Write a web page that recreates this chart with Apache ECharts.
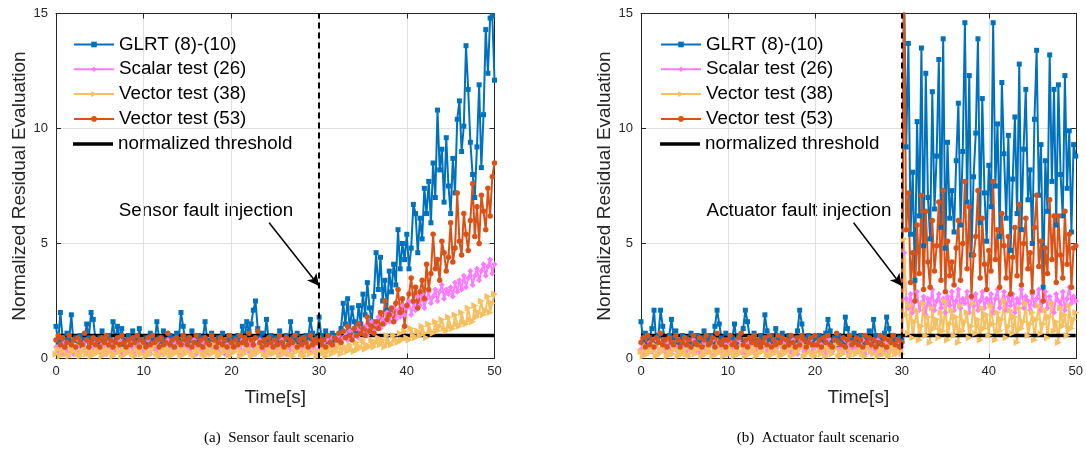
<!DOCTYPE html>
<html>
<head>
<meta charset="utf-8">
<title>Normalized Residual Evaluation</title>
<script src="https://cdn.jsdelivr.net/npm/echarts@6/dist/echarts.min.js"></script>
<style>
    html, body { margin: 0; padding: 0; background: #fff; }
    #chart { width: 1086px; height: 451px; }
</style>
</head>
<body>
<div id="chart"></div>
<script>
// 采样间隔 (s) 与坐标范围
const timeStep = 0.25;
const timeRange = [0, 50];
const faultTime = 30;
const thresholdLevel = 1;
const yRange = [0, 15];

const seriesNames = ['GLRT (8)-(10)', 'Scalar test (26)', 'Vector test (38)', 'Vector test (53)'];
const thresholdName = 'normalized threshold';
const captions = ['(a)  Sensor fault scenario', '(b)  Actuator fault scenario'];
const annotations = ['Sensor fault injection', 'Actuator fault injection'];

// (a) 传感器故障
const sensorGlrt = [
    1.4, 0.7, 2.0, 0.9, 0.6, 1.1, 0.8, 1.9, 0.6, 0.9, 0.7, 1.0, 0.5, 0.8, 1.5, 0.9, 2.0, 1.7, 0.8, 0.6,
    0.9, 1.2, 0.7, 0.6, 1.0, 0.8, 1.6, 0.7, 1.4, 0.9, 1.3, 0.6, 0.8, 1.0, 0.7, 1.2, 0.9, 0.6, 1.3, 0.8,
    0.7, 0.9, 0.6, 1.1, 0.8, 0.7, 1.6, 0.9, 0.6, 1.2, 0.8, 0.7, 1.0, 0.6, 0.9, 1.1, 0.8, 2.0, 1.4, 0.7,
    0.9, 0.6, 1.2, 0.8, 0.7, 1.0, 0.6, 0.9, 1.6, 0.8, 0.7, 1.1, 0.6, 0.8, 0.9, 0.7, 1.1, 0.6, 0.8, 1.0,
    0.7, 0.9, 0.6, 1.0, 0.8, 1.4, 0.9, 1.6, 1.2, 1.5, 2.1, 2.5, 1.3, 0.9, 1.1, 0.7, 1.7, 0.8, 1.0, 0.6,
    0.9, 0.7, 1.2, 0.8, 0.6, 1.0, 0.7, 1.6, 0.9, 0.8, 1.1, 0.6, 0.9, 0.7, 1.0, 0.8, 1.7, 1.1, 0.7, 0.9,
    1.8, 1.0, 0.8, 1.2, 0.7, 0.9, 1.1, 0.8, 1.0, 0.7, 1.3, 2.4, 1.5, 2.6, 1.2, 2.2, 1.6, 1.1, 2.3, 1.5,
    2.8, 1.9, 3.3, 2.2, 1.6, 2.7, 4.6, 3.0, 4.4, 2.5, 3.4, 2.1, 3.8, 2.9, 4.1, 3.2, 5.6, 3.9, 5.0, 4.3,
    5.4, 3.9, 4.8, 6.7, 6.3, 4.6, 6.1, 5.2, 7.4, 6.3, 7.7, 5.9, 8.5, 7.0, 10.8, 8.2, 9.1, 6.8, 9.6, 7.5,
    6.3, 8.7, 7.2, 10.4, 11.2, 9.0, 10.1, 13.6, 11.7, 9.4, 8.0, 7.0, 9.2, 11.9, 8.3, 10.6, 14.3, 12.4, 14.8, 14.9,
    12.1
];
const sensorScalar = [
    0.5, 0.3, 0.6, 0.2, 0.7, 0.4, 0.3, 0.6, 0.2, 0.5, 0.8, 0.3, 0.4, 0.7, 0.2, 0.5, 0.6, 0.3, 0.7, 0.4,
    0.3, 0.6, 0.5, 0.2, 0.7, 0.4, 0.6, 0.3, 0.5, 0.8, 0.2, 0.4, 0.6, 0.3, 0.7, 0.5, 0.2, 0.6, 0.4, 0.7,
    0.3, 0.5, 0.8, 0.2, 0.6, 0.4, 0.7, 0.3, 0.5, 0.2, 0.6, 0.8, 0.4, 0.3, 0.7, 0.5, 0.2, 0.6, 0.4, 0.7,
    0.5, 0.3, 0.6, 0.8, 0.2, 0.5, 0.4, 0.7, 0.3, 0.6, 0.2, 0.5, 0.7, 0.4, 0.3, 0.8, 0.5, 0.2, 0.6, 0.4,
    0.7, 0.3, 0.5, 0.6, 0.2, 0.8, 0.4, 0.6, 0.3, 0.7, 0.5, 0.2, 0.6, 0.8, 0.4, 0.3, 0.6, 0.5, 0.2, 0.7,
    0.4, 0.6, 0.3, 0.8, 0.5, 0.2, 0.6, 0.4, 0.7, 0.3, 0.5, 0.8, 0.2, 0.6, 0.4, 0.7, 0.3, 0.5, 0.6, 0.2,
    0.6, 0.4, 0.7, 0.5, 0.8, 0.6, 0.9, 0.5, 0.8, 1.0, 0.7, 0.9, 1.1, 0.8, 1.2, 0.9, 1.0, 1.3, 0.9, 1.2,
    1.1, 1.4, 1.0, 1.3, 1.6, 1.2, 1.5, 1.8, 1.3, 1.7, 1.5, 2.0, 1.6, 1.9, 2.2, 1.7, 2.1, 1.8, 2.3, 1.9,
    2.2, 2.5, 1.9, 2.4, 2.1, 2.7, 2.3, 2.8, 2.2, 2.6, 2.9, 2.4, 2.7, 3.0, 2.5, 2.9, 3.2, 2.6, 3.0, 2.8,
    3.1, 2.7, 3.3, 2.9, 3.4, 3.0, 3.6, 3.1, 3.5, 3.8, 3.2, 3.6, 3.9, 3.4, 3.8, 4.1, 3.6, 4.0, 4.3, 3.7,
    4.1
];
const sensorVector38 = [
    0.2, 0.4, 0.1, 0.3, 0.5, 0.2, 0.1, 0.4, 0.3, 0.6, 0.2, 0.1, 0.3, 0.5, 0.2, 0.4, 0.1, 0.3, 0.2, 0.5,
    0.3, 0.1, 0.4, 0.2, 0.6, 0.3, 0.1, 0.2, 0.5, 0.3, 0.1, 0.4, 0.2, 0.3, 0.6, 0.2, 0.1, 0.4, 0.3, 0.2,
    0.5, 0.1, 0.3, 0.2, 0.4, 0.6, 0.2, 0.1, 0.3, 0.5, 0.2, 0.4, 0.1, 0.3, 0.2, 0.5, 0.3, 0.1, 0.4, 0.2,
    0.3, 0.6, 0.2, 0.1, 0.4, 0.3, 0.5, 0.2, 0.1, 0.3, 0.4, 0.2, 0.6, 0.3, 0.1, 0.2, 0.5, 0.3, 0.4, 0.1,
    0.2, 0.4, 0.3, 0.6, 0.1, 0.3, 0.2, 0.5, 0.4, 0.1, 0.3, 0.2, 0.5, 0.3, 0.6, 0.2, 0.1, 0.4, 0.3, 0.2,
    0.5, 0.3, 0.1, 0.4, 0.2, 0.3, 0.6, 0.2, 0.1, 0.4, 0.3, 0.5, 0.2, 0.1, 0.3, 0.4, 0.2, 0.6, 0.3, 0.1,
    0.3, 0.2, 0.4, 0.1, 0.3, 0.5, 0.2, 0.4, 0.3, 0.6, 0.2, 0.4, 0.5, 0.3, 0.6, 0.4, 0.3, 0.7, 0.4, 0.5,
    0.8, 0.4, 0.6, 0.5, 0.8, 0.5, 0.7, 0.9, 0.6, 0.8, 0.5, 1.0, 0.7, 0.6, 1.0, 0.8, 0.7, 1.1, 0.8, 1.2,
    0.9, 0.8, 1.3, 1.0, 0.9, 1.2, 1.0, 1.4, 1.1, 0.9, 1.5, 1.2, 1.1, 1.6, 1.2, 1.4, 1.7, 1.3, 1.2, 1.8,
    1.4, 1.3, 1.9, 1.5, 1.4, 2.0, 1.6, 1.5, 2.2, 1.7, 1.6, 2.3, 1.8, 2.0, 2.5, 1.9, 2.1, 2.7, 2.0, 2.4,
    2.8
];
const sensorVector53 = [
    0.8, 1.0, 0.6, 0.9, 0.5, 0.7, 1.0, 0.6, 0.8, 0.5, 0.9, 0.7, 0.6, 1.1, 0.8, 0.5, 0.7, 0.9, 0.6, 0.8,
    0.5, 0.9, 0.7, 1.0, 0.6, 0.8, 0.5, 0.7, 0.9, 0.6, 1.0, 0.7, 0.5, 0.8, 0.6, 0.9, 0.7, 1.0, 0.5, 0.8,
    0.7, 0.5, 0.9, 0.6, 1.0, 0.7, 0.8, 0.5, 0.9, 0.6, 0.7, 1.1, 0.6, 0.8, 0.5, 0.9, 0.7, 0.6, 1.0, 0.8,
    0.6, 0.9, 0.5, 0.7, 1.0, 0.6, 0.8, 0.5, 0.9, 0.7, 0.6, 1.0, 0.8, 0.5, 0.7, 0.9, 0.6, 0.8, 0.5, 1.0,
    0.7, 0.5, 0.8, 0.6, 1.0, 0.7, 0.9, 0.6, 1.1, 0.8, 0.6, 0.9, 1.2, 0.7, 0.5, 0.8, 0.6, 0.9, 0.7, 0.5,
    0.8, 0.6, 1.0, 0.7, 0.5, 0.9, 0.6, 0.8, 0.7, 1.0, 0.5, 0.8, 0.6, 0.9, 0.7, 0.5, 1.0, 0.6, 0.8, 0.7,
    0.9, 0.6, 0.8, 0.5, 1.0, 0.7, 0.6, 0.9, 0.8, 1.1, 0.7, 1.2, 0.9, 1.4, 1.0, 0.8, 1.3, 1.0, 1.5, 1.1,
    1.3, 1.0, 1.8, 1.2, 1.4, 1.1, 1.6, 1.3, 2.0, 1.5, 2.5, 1.7, 1.9, 2.2, 1.6, 2.4, 3.0, 2.0, 2.6, 1.4,
    2.3, 2.8, 3.5, 2.5, 3.1, 2.2, 2.9, 3.4, 2.6, 4.1, 3.0, 3.7, 5.4, 3.9, 4.3, 3.4, 5.1, 4.6, 3.8, 4.4,
    5.9, 4.2, 4.8, 7.2, 5.1, 4.5, 6.3, 5.4, 4.7, 6.0, 7.6, 5.3, 6.6, 5.0, 7.1, 6.4, 5.6, 7.4, 6.2, 7.9,
    8.5
];

// (b) 执行器故障
const actuatorGlrt = [
    1.6, 0.8, 1.1, 0.6, 0.9, 1.3, 2.1, 0.7, 1.0, 2.1, 1.4, 0.8, 0.6, 1.0, 1.7, 0.9, 1.2, 0.7, 0.8, 1.0,
    0.6, 0.9, 0.7, 1.1, 0.8, 0.6, 1.0, 0.7, 0.9, 1.2, 0.6, 0.8, 1.0, 0.7, 1.4, 2.1, 1.5, 0.9, 0.7, 1.1,
    0.8, 0.6, 0.9, 1.5, 0.7, 1.0, 0.8, 1.3, 2.1, 1.6, 0.9, 0.7, 1.1, 0.6, 0.8, 1.0, 0.7, 1.9, 1.2, 0.8,
    1.0, 0.7, 1.3, 0.9, 0.6, 1.1, 0.8, 0.7, 1.0, 0.6, 0.9, 0.8, 1.2, 2.1, 1.5, 0.9, 0.7, 1.0, 0.6, 0.8,
    0.9, 0.7, 1.0, 0.6, 0.8, 1.1, 1.7, 1.2, 0.7, 0.9, 0.6, 1.0, 0.8, 0.7, 1.8, 1.3, 0.9, 0.6, 1.1, 0.8,
    0.7, 1.0, 0.8, 0.6, 0.9, 1.2, 0.7, 1.7, 1.0, 0.8, 0.6, 0.9, 1.1, 1.8, 1.3, 0.7, 1.0, 0.8, 0.6, 0.9,
    0.8, 16.0, 9.2, 13.7, 5.4, 8.1, 3.4, 10.3, 6.2, 13.5, 4.9, 12.4, 7.0, 5.2, 11.6, 6.5, 8.8, 13.0, 5.7, 13.9,
    4.8, 9.4, 6.1, 7.3, 5.5, 8.6, 11.1, 5.8, 9.0, 14.6, 6.8, 12.3, 4.5, 7.9, 9.8, 13.9, 5.9, 11.3, 7.2, 5.1,
    8.4, 6.6, 14.6, 7.5, 10.2, 5.3, 12.0, 8.9, 6.1, 9.7, 4.7, 7.8, 10.5, 6.3, 12.8, 5.6, 9.1, 11.7, 6.9, 8.2,
    5.0, 10.4, 13.4, 7.1, 9.3, 3.1, 8.6, 6.4, 13.2, 7.7, 11.7, 5.8, 11.9, 8.0, 6.2, 12.3, 7.4, 9.9, 5.5, 9.3,
    8.8
];
const actuatorScalar = [
    0.4, 0.6, 0.2, 0.5, 0.7, 0.3, 0.5, 0.8, 0.2, 0.4, 0.6, 0.3, 0.7, 0.5, 0.2, 0.6, 0.4, 0.8, 0.3, 0.5,
    0.7, 0.2, 0.5, 0.4, 0.8, 0.3, 0.6, 0.2, 0.5, 0.7, 0.4, 0.3, 0.6, 0.8, 0.2, 0.5, 0.7, 0.3, 0.4, 0.6,
    0.2, 0.7, 0.4, 0.5, 0.3, 0.8, 0.6, 0.2, 0.4, 0.7, 0.5, 0.3, 0.6, 0.2, 0.8, 0.4, 0.5, 0.7, 0.3, 0.6,
    0.4, 0.8, 0.3, 0.5, 0.6, 0.2, 0.7, 0.4, 0.5, 0.3, 0.8, 0.6, 0.2, 0.5, 0.7, 0.3, 0.4, 0.6, 0.8, 0.2,
    0.5, 0.7, 0.3, 0.6, 0.4, 0.2, 0.8, 0.5, 0.3, 0.6, 0.7, 0.4, 0.2, 0.5, 0.8, 0.3, 0.6, 0.4, 0.7, 0.5,
    0.3, 0.6, 0.8, 0.2, 0.5, 0.7, 0.4, 0.3, 0.6, 0.8, 0.2, 0.5, 0.4, 0.7, 0.3, 0.6, 0.5, 0.2, 0.7, 0.4,
    0.5, 4.6, 2.6, 2.2, 2.8, 2.0, 2.5, 2.9, 2.1, 2.4, 2.7, 1.9, 2.6, 2.3, 3.0, 2.1, 2.5, 2.8, 2.2, 2.6,
    2.0, 2.7, 2.3, 2.9, 2.1, 2.5, 3.0, 2.2, 2.6, 2.4, 2.9, 2.0, 2.7, 2.3, 2.8, 2.1, 2.5, 2.9, 2.2, 2.6,
    2.4, 2.8, 2.0, 2.6, 3.0, 2.2, 2.5, 2.9, 2.1, 2.7, 2.3, 2.8, 2.0, 2.6, 2.4, 3.0, 2.2, 2.7, 2.5, 2.1,
    2.8, 2.3, 2.6, 3.0, 2.1, 2.5, 2.9, 2.2, 2.7, 2.4, 2.0, 2.8, 2.5, 2.3, 2.9, 2.1, 2.6, 3.1, 2.4, 2.7,
    2.5
];
const actuatorVector38 = [
    0.3, 0.1, 0.5, 0.2, 0.4, 0.3, 0.6, 0.1, 0.2, 0.4, 0.3, 0.5, 0.1, 0.3, 0.2, 0.6, 0.4, 0.1, 0.3, 0.2,
    0.4, 0.2, 0.1, 0.5, 0.3, 0.2, 0.4, 0.6, 0.1, 0.3, 0.2, 0.5, 0.3, 0.1, 0.4, 0.2, 0.6, 0.3, 0.1, 0.4,
    0.2, 0.5, 0.3, 0.1, 0.4, 0.2, 0.3, 0.6, 0.1, 0.4, 0.2, 0.3, 0.5, 0.1, 0.2, 0.4, 0.3, 0.6, 0.2, 0.1,
    0.4, 0.2, 0.5, 0.3, 0.1, 0.6, 0.2, 0.3, 0.4, 0.1, 0.5, 0.2, 0.3, 0.4, 0.6, 0.1, 0.2, 0.5, 0.3, 0.2,
    0.1, 0.3, 0.6, 0.2, 0.4, 0.1, 0.5, 0.3, 0.2, 0.4, 0.6, 0.1, 0.3, 0.2, 0.5, 0.4, 0.1, 0.3, 0.6, 0.2,
    0.3, 0.5, 0.2, 0.1, 0.4, 0.6, 0.3, 0.2, 0.5, 0.1, 0.3, 0.4, 0.2, 0.6, 0.1, 0.3, 0.5, 0.2, 0.4, 0.3,
    0.2, 5.2, 1.9, 1.1, 2.3, 0.9, 1.6, 2.1, 0.8, 1.4, 2.4, 1.0, 1.8, 0.7, 2.2, 1.3, 1.7, 0.9, 2.0, 1.2,
    2.5, 0.8, 1.5, 2.1, 1.0, 1.8, 0.7, 2.3, 1.2, 1.6, 2.0, 0.9, 1.4, 2.4, 1.1, 1.7, 0.8, 2.2, 1.3, 1.9,
    1.0, 2.3, 1.5, 0.8, 2.0, 1.2, 1.7, 2.5, 0.9, 1.4, 2.1, 1.1, 1.8, 0.7, 2.2, 1.3, 1.6, 2.4, 1.0, 1.5,
    2.0, 0.8, 1.7, 2.3, 1.1, 1.5, 2.1, 0.9, 1.8, 2.4, 1.2, 1.6, 0.7, 2.2, 1.4, 1.9, 1.0, 2.3, 1.3, 1.7,
    2.0
];
const actuatorVector53 = [
    0.7, 0.9, 0.5, 1.0, 0.6, 0.8, 0.5, 0.9, 0.7, 1.1, 0.6, 0.8, 0.5, 0.9, 0.7, 0.6, 1.0, 0.8, 0.5, 0.7,
    0.9, 0.6, 0.8, 0.5, 1.0, 0.7, 0.6, 0.9, 0.5, 0.8, 1.0, 0.6, 0.7, 0.9, 0.5, 1.1, 0.7, 0.6, 0.8, 0.5,
    0.8, 1.0, 0.6, 0.7, 0.5, 0.9, 1.1, 0.6, 0.8, 0.5, 0.9, 0.7, 1.0, 0.6, 0.8, 0.5, 0.7, 0.9, 0.6, 1.0,
    0.5, 0.8, 0.6, 1.0, 0.7, 0.9, 0.5, 0.8, 0.6, 1.0, 0.7, 0.5, 0.9, 0.6, 1.0, 0.8, 0.5, 0.7, 0.9, 0.6,
    1.0, 0.6, 0.8, 0.5, 0.9, 0.7, 1.0, 0.6, 0.5, 0.8, 1.1, 0.7, 0.6, 0.9, 0.5, 0.8, 1.0, 0.6, 0.7, 0.9,
    0.6, 0.8, 0.5, 1.0, 0.7, 0.9, 0.6, 0.8, 0.5, 0.7, 1.0, 0.6, 0.9, 0.5, 0.8, 0.7, 1.0, 0.6, 0.8, 0.5,
    0.7, 16.0, 5.6, 7.2, 3.3, 4.6, 2.5, 5.8, 3.7, 7.1, 3.0, 6.4, 4.2, 3.1, 6.0, 3.8, 4.9, 6.8, 3.4, 7.3,
    2.9, 5.1, 3.6, 4.2, 3.2, 4.8, 6.0, 3.4, 5.0, 7.7, 3.9, 6.6, 2.7, 4.5, 5.3, 7.3, 3.5, 6.1, 4.1, 3.0,
    4.7, 3.8, 7.7, 4.3, 5.6, 3.1, 6.3, 4.9, 3.5, 5.3, 2.8, 4.4, 5.7, 3.6, 6.7, 3.2, 5.0, 6.1, 3.9, 4.6,
    2.9, 5.7, 7.1, 4.0, 5.1, 2.5, 4.8, 3.7, 6.9, 4.3, 6.2, 3.3, 6.2, 4.5, 3.5, 6.4, 4.1, 5.4, 3.1, 4.8,
    4.9
];

const panelValues = [
    [sensorGlrt, sensorScalar, sensorVector38, sensorVector53],
    [actuatorGlrt, actuatorScalar, actuatorVector38, actuatorVector53]
];

// 样式
const font = "'Liberation Sans', Arial, sans-serif";
const axisColor = '#262626';
const seriesStyles = [
    { color: '#0072BD', symbol: 'rect', size: 5, rotate: 0 },
    { color: '#FF7AFF', symbol: 'diamond', size: 6, rotate: 0 },
    { color: '#F5C062', symbol: 'triangle', size: 7, rotate: -90 },
    { color: '#D95319', symbol: 'circle', size: 5.5, rotate: 0 }
];
const grids = [
    { left: 56, top: 13.5, width: 438.5, height: 345 },
    { left: 641, top: 13.5, width: 441, height: 345 }
];
const legendLeft = [68, 655];
const annotationCenter = [206, 799];
const arrowStart = [[24.3, 5.9], [24.45, 5.9]];
const arrowEnd = [faultTime, 3.15];
const captionCenter = [279, 818];

function toPairs(values) {
    return values.map((v, i) => [i * timeStep, v]);
}

const xAxes = [];
const yAxes = [];
const series = [];

grids.forEach((g, gi) => {
    // 下/左 主坐标轴
    xAxes.push({
        gridIndex: gi, type: 'value', min: timeRange[0], max: timeRange[1], interval: 10,
        name: 'Time[s]', nameLocation: 'middle', nameGap: 30,
        nameTextStyle: { fontSize: 19, color: axisColor, fontFamily: font },
        axisLine: { show: true, onZero: false, lineStyle: { color: axisColor, width: 1 } },
        axisTick: { inside: true, length: 5, lineStyle: { color: axisColor } },
        axisLabel: { fontSize: 13, color: axisColor, fontFamily: font, margin: 6 },
        splitLine: { show: true, lineStyle: { color: '#e0e0e0', width: 1 } }
    });
    // 上/右 镜像坐标轴 (box on)
    xAxes.push({
        gridIndex: gi, type: 'value', position: 'top', min: timeRange[0], max: timeRange[1], interval: 10,
        axisLine: { show: true, onZero: false, lineStyle: { color: axisColor, width: 1 } },
        axisTick: { inside: true, length: 5, lineStyle: { color: axisColor } },
        axisLabel: { show: false },
        splitLine: { show: false }
    });
    yAxes.push({
        gridIndex: gi, type: 'value', min: yRange[0], max: yRange[1], interval: 5,
        name: 'Normalized Residual Evaluation', nameLocation: 'middle', nameGap: 26,
        nameTextStyle: { fontSize: 19, color: axisColor, fontFamily: font },
        axisLine: { show: true, onZero: false, lineStyle: { color: axisColor, width: 1 } },
        axisTick: { show: true, inside: true, length: 5, lineStyle: { color: axisColor } },
        axisLabel: { fontSize: 13, color: axisColor, fontFamily: font, margin: 8 },
        splitLine: { show: true, lineStyle: { color: '#e0e0e0', width: 1 } }
    });
    yAxes.push({
        gridIndex: gi, type: 'value', position: 'right', min: yRange[0], max: yRange[1], interval: 5,
        axisLine: { show: true, onZero: false, lineStyle: { color: axisColor, width: 1 } },
        axisTick: { show: true, inside: true, length: 5, lineStyle: { color: axisColor } },
        axisLabel: { show: false },
        splitLine: { show: false }
    });

    panelValues[gi].forEach((values, si) => {
        const st = seriesStyles[si];
        series.push({
            name: seriesNames[si],
            type: 'line',
            xAxisIndex: gi * 2,
            yAxisIndex: gi * 2,
            data: toPairs(values),
            symbol: st.symbol,
            symbolSize: st.size,
            symbolRotate: st.rotate,
            showAllSymbol: true,
            clip: true,
            lineStyle: { color: st.color, width: 2 },
            itemStyle: { color: st.color, borderWidth: 0 },
            emphasis: { disabled: true }
        });
    });

    // 阈值线 + 故障注入时刻
    series.push({
        name: thresholdName,
        type: 'line',
        xAxisIndex: gi * 2,
        yAxisIndex: gi * 2,
        data: [[timeRange[0], thresholdLevel], [timeRange[1], thresholdLevel]],
        symbol: 'none',
        lineStyle: { color: '#000', width: 3.5 },
        itemStyle: { color: '#000' },
        emphasis: { disabled: true },
        markLine: {
            silent: true,
            symbol: ['none', 'none'],
            label: { show: false },
            lineStyle: { color: '#000', type: [6, 4], width: 2 },
            data: [{ xAxis: faultTime }]
        }
    });

    // 箭头注释
    series.push({
        name: 'arrow' + gi,
        type: 'line',
        xAxisIndex: gi * 2,
        yAxisIndex: gi * 2,
        data: [],
        markLine: {
            silent: true,
            symbol: ['none', 'arrow'],
            symbolSize: [9, 12],
            label: { show: false },
            lineStyle: { color: '#000', type: 'solid', width: 1.5 },
            data: [[{ coord: arrowStart[gi] }, { coord: arrowEnd }]]
        }
    });
});

// 图例：四条曲线 + 单独的阈值图例 (纯线条图标)
const legendText = { fontSize: 18.8, lineHeight: 19, color: '#000', fontFamily: font };
const legends = [];
legendLeft.forEach(left => {
    legends.push({
        left: left, top: 30, orient: 'vertical',
        itemWidth: 40, itemHeight: 7, itemGap: 5.8,
        selectedMode: false,
        data: seriesNames,
        textStyle: legendText
    });
    legends.push({
        left: left, top: 129.4, orient: 'vertical',
        itemWidth: 40, itemHeight: 3.5,
        selectedMode: false,
        data: [{ name: thresholdName, icon: 'rect' }],
        textStyle: legendText
    });
});

const graphics = [];
annotations.forEach((text, i) => {
    graphics.push({
        type: 'text', x: annotationCenter[i], y: 211, silent: true,
        style: { text: text, font: '18.8px ' + font, fill: '#000', align: 'center', verticalAlign: 'middle' }
    });
});
captions.forEach((text, i) => {
    graphics.push({
        type: 'text', x: captionCenter[i], y: 438, silent: true,
        style: { text: text, font: "15px 'Liberation Serif', 'Times New Roman', serif", fill: '#000', align: 'center', verticalAlign: 'middle' }
    });
});

const chart = echarts.init(document.getElementById('chart'));
chart.setOption({
    animation: false,
    backgroundColor: '#fff',
    grid: grids.map(g => Object.assign({ containLabel: false }, g)),
    xAxis: xAxes,
    yAxis: yAxes,
    legend: legends,
    series: series,
    graphic: graphics
});
</script>
</body>
</html>
